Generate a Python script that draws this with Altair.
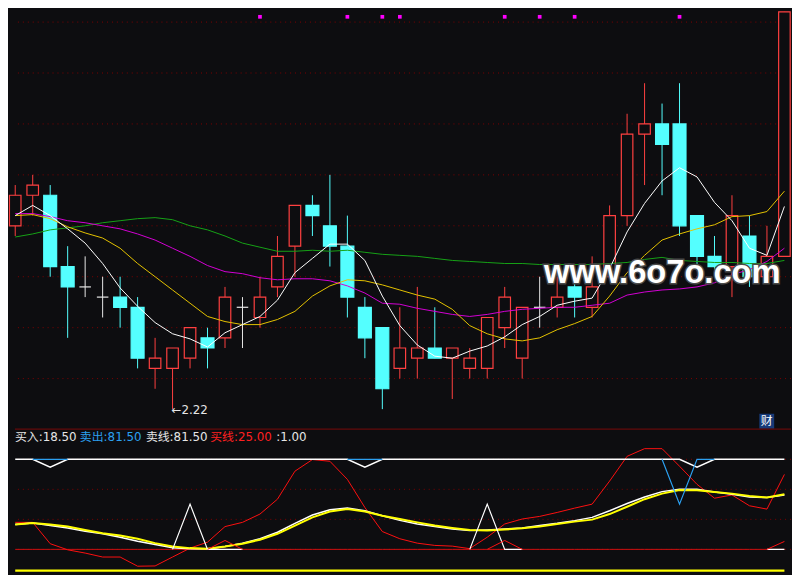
import altair as alt
import pandas as pd
import numpy as np

BG = "#0d0d10"
RED = "#ff4040"
CYAN = "#54ffff"
GRID = "#800000"

# ---------------- upper panel data (price) ----------------
opens  = [2.40, 2.43, 2.43, 2.36, 2.34, 2.33, 2.33, 2.32, 2.26, 2.26,
          2.27, 2.29, 2.29, 2.32, 2.31, 2.34, 2.38, 2.42, 2.40, 2.38,
          2.32, 2.30, 2.26, 2.27, 2.28, 2.27, 2.26, 2.26, 2.30, 2.27,
          2.32, 2.32, 2.34, 2.32, 2.35, 2.41, 2.49, 2.50, 2.50, 2.41,
          2.37, 2.36, 2.39, 2.35, 2.37]
highs  = [2.44, 2.45, 2.44, 2.38, 2.37, 2.35, 2.35, 2.33, 2.29, 2.28,
          2.30, 2.30, 2.34, 2.33, 2.35, 2.39, 2.42, 2.43, 2.45, 2.41,
          2.33, 2.30, 2.32, 2.34, 2.32, 2.28, 2.28, 2.31, 2.34, 2.32,
          2.35, 2.35, 2.35, 2.37, 2.42, 2.51, 2.54, 2.52, 2.54, 2.41,
          2.39, 2.43, 2.41, 2.40, 2.61]
lows   = [2.39, 2.41, 2.35, 2.29, 2.33, 2.31, 2.30, 2.26, 2.24, 2.22,
          2.26, 2.26, 2.28, 2.28, 2.30, 2.33, 2.35, 2.39, 2.36, 2.31,
          2.27, 2.22, 2.25, 2.25, 2.27, 2.23, 2.25, 2.25, 2.28, 2.25,
          2.30, 2.31, 2.31, 2.31, 2.35, 2.40, 2.44, 2.43, 2.39, 2.36,
          2.35, 2.33, 2.34, 2.35, 2.37]
closes = [2.43, 2.44, 2.36, 2.34, 2.34, 2.33, 2.32, 2.27, 2.27, 2.28,
          2.30, 2.28, 2.33, 2.32, 2.33, 2.37, 2.42, 2.41, 2.38, 2.33,
          2.29, 2.24, 2.28, 2.28, 2.27, 2.28, 2.27, 2.31, 2.33, 2.32,
          2.32, 2.33, 2.33, 2.34, 2.41, 2.49, 2.50, 2.48, 2.40, 2.37,
          2.36, 2.41, 2.35, 2.37, 2.61]

ma5 = [2.410, 2.420, 2.410, 2.397, 2.383, 2.363, 2.339, 2.321, 2.305, 2.294,
       2.289, 2.281, 2.295, 2.303, 2.311, 2.327, 2.354, 2.368, 2.382, 2.382,
       2.366, 2.331, 2.302, 2.283, 2.272, 2.270, 2.277, 2.282, 2.291, 2.303,
       2.311, 2.322, 2.326, 2.329, 2.358, 2.394, 2.422, 2.444, 2.457, 2.448,
       2.423, 2.405, 2.378, 2.371, 2.419]
ma10 = [2.410, 2.411, 2.407, 2.399, 2.393, 2.388, 2.378, 2.363, 2.350, 2.337,
        2.324, 2.311, 2.306, 2.303, 2.303, 2.308, 2.316, 2.331, 2.341, 2.347,
        2.346, 2.342, 2.337, 2.332, 2.328, 2.318, 2.302, 2.294, 2.289, 2.287,
        2.290, 2.298, 2.304, 2.311, 2.331, 2.354, 2.371, 2.386, 2.392, 2.397,
        2.401, 2.409, 2.410, 2.414, 2.434]
ma20 = [2.412, 2.412, 2.409, 2.405, 2.403, 2.400, 2.397, 2.392, 2.386, 2.378,
        2.370, 2.361, 2.355, 2.353, 2.349, 2.347, 2.348, 2.348, 2.346, 2.341,
        2.334, 2.324, 2.323, 2.319, 2.316, 2.313, 2.311, 2.313, 2.316, 2.318,
        2.319, 2.320, 2.320, 2.322, 2.324, 2.332, 2.335, 2.337, 2.338, 2.340,
        2.344, 2.352, 2.357, 2.365, 2.378]
ma60 = [2.389, 2.392, 2.396, 2.398, 2.400, 2.403, 2.405, 2.407, 2.408, 2.406,
        2.400, 2.396, 2.390, 2.383, 2.379, 2.375, 2.375, 2.376, 2.375, 2.376,
        2.374, 2.372, 2.371, 2.370, 2.368, 2.366, 2.365, 2.364, 2.363, 2.363,
        2.362, 2.362, 2.362, 2.362, 2.363, 2.364, 2.367, 2.369, 2.366, 2.365,
        2.364, 2.364, 2.363, 2.363, 2.366]

signal_idx = [14, 19, 21, 22, 28, 30, 32, 38]
price_grid = [2.25, 2.30, 2.35, 2.40, 2.45, 2.50, 2.55, 2.60]

# ---------------- lower panel data (indicator) ----------------
N = None
kd_yellow = [27.5, 29.3, 27.5, 25.3, 21.6, 17.9, 15.4, 11.8, 6.9, 3.3,
             1.4, 0.8, 3.3, 6.3, 10.7, 17.3, 26.4, 35.5, 42.1, 44.7,
             42.1, 37.4, 33.7, 30.0, 26.4, 23.8, 21.6, 20.9, 22.0, 23.4,
             25.3, 28.2, 30.8, 33.0, 39.2, 47.3, 55.7, 61.9, 65.9, 65.6,
             63.7, 61.9, 59.3, 57.5, 61.2]
kd_white = [27.5, 29.3, 26.4, 23.8, 20.1, 17.3, 13.5, 9.1, 5.5, 1.9,
            0.8, 0.3, 3.3, 6.9, 11.8, 19.0, 28.9, 38.1, 44.0, 45.8,
            42.9, 37.4, 32.2, 28.2, 25.3, 22.7, 20.9, 21.6, 22.7, 23.8,
            26.4, 28.9, 31.9, 35.5, 42.9, 50.9, 58.2, 64.1, 66.7, 66.7,
            63.7, 61.2, 58.2, 57.5, 60.4]
osc_red = [30.0, 30.0, 6.3, -0.5, -4.1, -8.5, -8.5, -18.7, -18.4, -8.5,
           1.4, 8.0, 25.3, 30.0, 39.2, 55.7, 86.8, 99.7, 97.8, 77.7,
           46.5, 19.8, 11.8, 6.9, 4.4, 3.6, 0.8, 13.5, 28.2, 33.7,
           36.6, 41.0, 45.8, 50.2, 75.8, 103.3, 111.8, 111.8, 92.3, 72.2,
           56.8, 60.4, 48.4, 44.7, 83.2]
top_white = [100, 100, 91.2] + [100] * 17 + [91.2] + [100] * 18 + [91.2] + [100] * 5
sell_blue = [N, 100, 100, 100] + [N] * 15 + [100, 100, 100] + [N] * 15 + [100, 50.2, 100, 100] + [N] * 4
spike_white = ([N] * 9 + [0, 50.2, 0, 0, 0] + [N] * 12 + [0, 50.2, 0, 0] + [N] * 13 + [0, 0])
hump_red = [N] * 11 + [0, 9.9, 0] + [N] * 13 + [0, 9.9, 0] + [N] * 13 + [0, 8.8]
zero_line = [0] * 45
floor_line = [-23.6] * 45
ind_grid = [0, 33.33, 66.67, 100]

header = [("买入:18.50", "#e6e6e6"), ("卖出:81.50", "#2ca0f0"),
          ("卖线:81.50", "#e6e6e6"), ("买线:25.00", "#ff2020"), (":1.00", "#e6e6e6")]
header_x = [0, 65.6, 132.3, 197.3, 264]

# ---------------- frames ----------------
idx = list(range(len(opens)))
df = pd.DataFrame({"i": idx, "o": opens, "h": highs, "l": lows, "c": closes})
df["kind"] = np.where(df.c > df.o, "up", np.where(df.c < df.o, "down", "flat"))


def seg_frame(vals, name):
    rows, seg, prev = [], 0, None
    for i, v in enumerate(vals):
        if v is None:
            if prev is not None:
                seg += 1
            prev = None
            continue
        rows.append({"i": i, "v": v, "seg": f"{name}{seg}"})
        prev = v
    return pd.DataFrame(rows)


xs = alt.Scale(domain=[-0.017, 44.377], nice=False, zero=False, padding=0)
ys = alt.Scale(domain=[2.2009, 2.6081], nice=False, zero=False, padding=0)
ys2 = alt.Scale(domain=[-25.27, 134.07], nice=False, zero=False, padding=0)

X = alt.X("i:Q", scale=xs, axis=None)
TXT_FONT = "DejaVu Sans, Noto Sans CJK SC"

# ---- upper panel layers ----
grid_up = alt.Chart(pd.DataFrame({"g": price_grid})).mark_rule(
    color=GRID, strokeWidth=1, strokeDash=[1, 4]).encode(y=alt.Y("g:Q", scale=ys, axis=None))

wicks = alt.Chart(df).mark_rule(strokeWidth=1).encode(
    x=X, y=alt.Y("l:Q", scale=ys, axis=None), y2="h:Q",
    color=alt.Color("kind:N", scale=alt.Scale(domain=["up", "down", "flat"],
                                              range=[RED, CYAN, "#e8e8e8"]), legend=None))

bodies = alt.Chart(df).transform_filter("datum.kind != 'flat'").transform_calculate(
    hw="datum.kind == 'up' ? 0.33 : 0.37",
).transform_calculate(
    x1="datum.i - datum.hw", x2="datum.i + datum.hw",
    top="max(datum.o, datum.c)", bot="min(datum.o, datum.c)"
).mark_rect(strokeWidth=1.2).encode(
    x=alt.X("x1:Q", scale=xs, axis=None), x2="x2:Q",
    y=alt.Y("bot:Q", scale=ys, axis=None), y2="top:Q",
    fill=alt.Fill("kind:N", scale=alt.Scale(domain=["up", "down"], range=[BG, CYAN]), legend=None),
    stroke=alt.Stroke("kind:N", scale=alt.Scale(domain=["up", "down"], range=[RED, CYAN]), legend=None))

doji = alt.Chart(df).transform_filter("datum.kind == 'flat'").transform_calculate(
    x1="datum.i - 0.33", x2="datum.i + 0.33").mark_rule(color="#e8e8e8", strokeWidth=1.2).encode(
    x=alt.X("x1:Q", scale=xs, axis=None), x2="x2:Q", y=alt.Y("o:Q", scale=ys, axis=None))


def ma_line(vals, color):
    d = pd.DataFrame({"i": idx, "v": vals})
    return alt.Chart(d).mark_line(color=color, strokeWidth=1, clip=True).encode(
        x=X, y=alt.Y("v:Q", scale=ys, axis=None))


lo_row = df.loc[[df.l.idxmin()]].copy()
lo_row["t"] = "←" + lo_row.l.map(lambda v: f"{v:.2f}")
low_label = alt.Chart(lo_row).mark_text(
    align="left", baseline="middle", dx=-1, dy=1, fontSize=12, font="DejaVu Sans",
    color="#e6e6e6").encode(x=X, y=alt.Y("l:Q", scale=ys, axis=None), text="t:N")

dots = alt.Chart(pd.DataFrame({"i": signal_idx})).mark_square(
    size=14, color="#ff00ff", opacity=1).encode(x=X, y=alt.value(3))

badge = alt.Chart(pd.DataFrame({"t": ["财"]})).mark_rect(color="#173a78").encode(
    x=alt.value(752), x2=alt.value(767), y=alt.value(404), y2=alt.value(419))
badge_t = alt.Chart(pd.DataFrame({"t": ["财"]})).mark_text(
    font="Noto Sans CJK SC", fontSize=12, color="#ffffff", baseline="middle").encode(
    x=alt.value(759.5), y=alt.value(411.5), text="t:N")

wm_df = pd.DataFrame({"t": ["www.6o7o.com"]})
wm_shadow = alt.Chart(wm_df).mark_text(
    font="Liberation Sans", fontWeight="bold", fontSize=33, align="center",
    baseline="alphabetic", fill="#ffffff", stroke="#4a4a4a", strokeWidth=3).encode(
    x=alt.value(654), y=alt.value(272), text="t:N")
wm = alt.Chart(wm_df).mark_text(
    font="Liberation Sans", fontWeight="bold", fontSize=33, align="center",
    baseline="alphabetic", color="#ffffff").encode(
    x=alt.value(654), y=alt.value(272), text="t:N")

top = alt.layer(
    grid_up, wicks, bodies, doji,
    ma_line(ma60, "#16a316"), ma_line(ma20, "#d400d4"), ma_line(ma10, "#e6c300"),
    ma_line(ma5, "#ffffff"),
    low_label, dots, badge, badge_t, wm_shadow, wm,
).properties(width=784, height=419)

# ---- lower panel layers ----
def ind_line(vals, name, color, width):
    d = seg_frame(vals, name)
    return alt.Chart(d).mark_line(color=color, strokeWidth=width, clip=True).encode(
        x=X, y=alt.Y("v:Q", scale=ys2, axis=None), detail="seg:N")


grid_lo = alt.Chart(pd.DataFrame({"g": ind_grid})).mark_rule(
    color=GRID, strokeWidth=1, strokeDash=[1, 4]).encode(y=alt.Y("g:Q", scale=ys2, axis=None))
sep = alt.Chart(pd.DataFrame({"g": [0]})).mark_rule(color="#7a0a0a", strokeWidth=1).encode(
    y=alt.value(0.5))

head_layers = []
for (txt, col), hx in zip(header, header_x):
    head_layers.append(
        alt.Chart(pd.DataFrame({"t": [txt]})).mark_text(
            font=TXT_FONT, fontSize=12, color=col, align="left", baseline="middle").encode(
            x=alt.value(hx), y=alt.value(9), text="t:N"))

bottom = alt.layer(
    grid_lo, sep,
    ind_line(floor_line, "f", "#ffff00", 2.5),
    ind_line(zero_line, "z", "#d01010", 1),
    ind_line(osc_red, "r", "#ff1010", 1),
    ind_line(kd_white, "w", "#ffffff", 1.5),
    ind_line(kd_yellow, "y", "#ffff00", 2),
    ind_line(top_white, "t", "#ffffff", 1.5),
    ind_line(sell_blue, "b", "#2ca0f0", 1.2),
    ind_line(spike_white, "s", "#ffffff", 1.2),
    ind_line(hump_red, "h", "#ff1010", 1),
    *head_layers,
).properties(width=784, height=145)

chart = alt.vconcat(top, bottom, spacing=0).properties(
    background=BG, padding=0
).configure_view(strokeWidth=0).configure_concat(spacing=0).configure_scale(continuousPadding=0)

chart.save("out.html", embed_options={"renderer": "svg", "actions": False})
